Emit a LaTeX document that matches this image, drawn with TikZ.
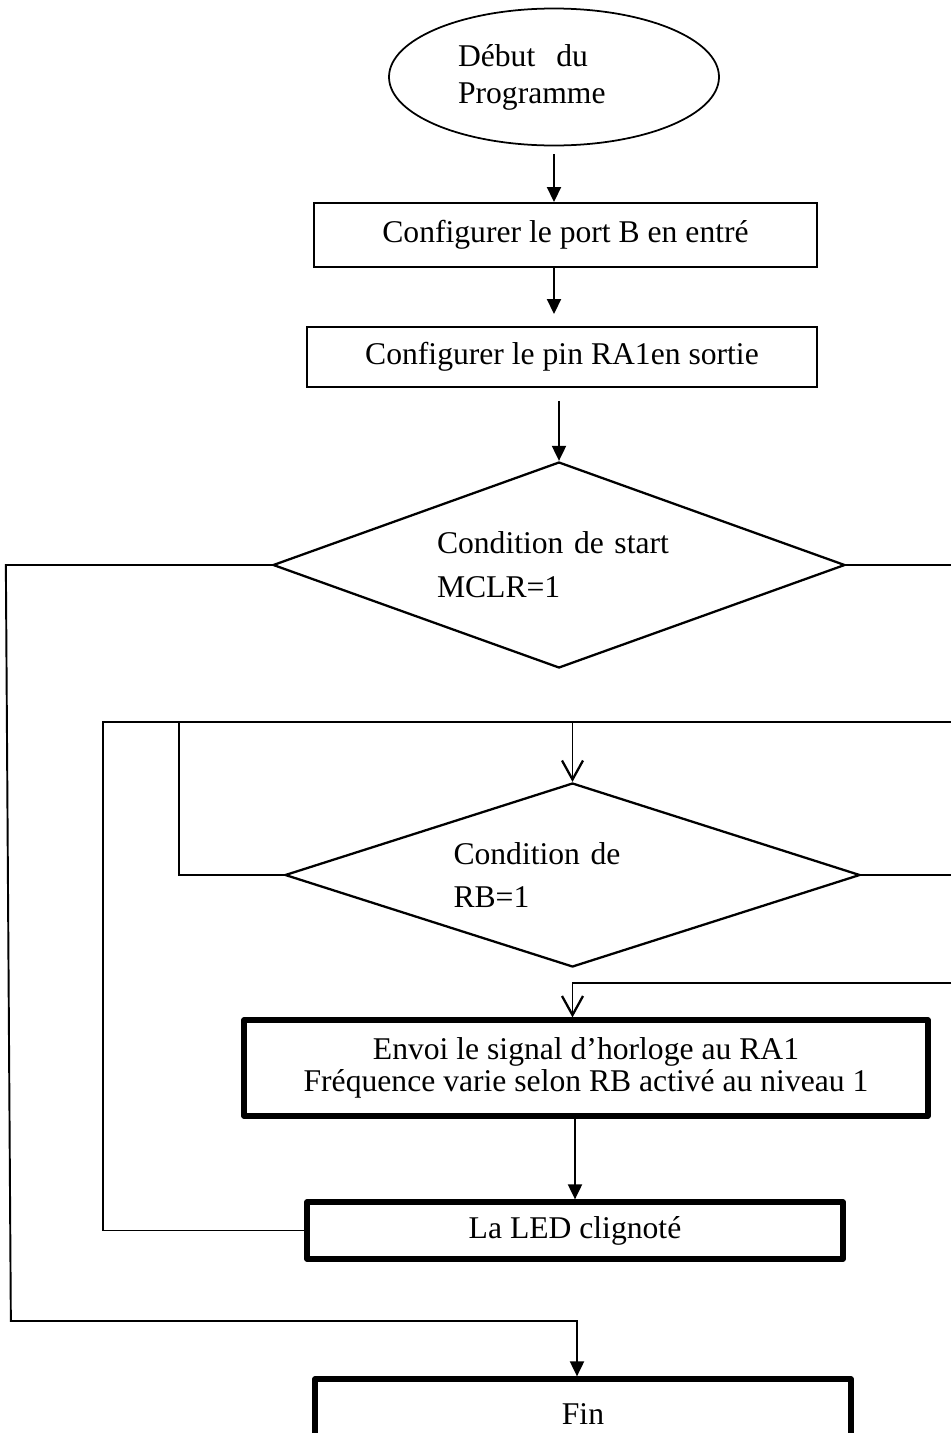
\documentclass[tikz,border=0pt]{standalone}
\usepackage{fontspec}
\setmainfont{Liberation Serif}
\usetikzlibrary{arrows.meta,shapes.geometric}

\begin{document}
\begin{tikzpicture}[
  >=Latex,
  font=\fontsize{18}{21}\selectfont,
  terminal/.style={draw, ellipse, line width=1pt, minimum width=6.6cm, minimum height=2.74cm, inner sep=0pt, text width=3.84cm, align=left},
  stepbox/.style={draw, line width=1.1pt, minimum height=1.28cm, inner sep=0pt, align=center},
  action/.style={draw, line width=3pt, line join=round, minimum height=1.14cm, inner sep=0pt, align=center},
  test/.style={draw, diamond, aspect=3, line width=1.3pt, inner sep=0pt, align=left},
  flow/.style={-{Triangle[length=0.3cm,width=0.28cm]}, line width=1.1pt},
  loopflow/.style={-{Straight Barb[length=0.38cm,width=0.42cm, line width=1.3pt]}, line width=1pt},
  link/.style={line width=0.75pt}
]
\useasboundingbox (0,0) rectangle (19.02,-28.66);
\clip (0,0) rectangle (19.02,-28.66);

% Start and set-up
\node[terminal] (start) at (11.08,-1.54) {Début~ du\\Programme};
\node[stepbox, minimum width=10.06cm] (cfgB) at (11.31,-4.70) {Configurer le port B en entré};
\node[stepbox, minimum width=10.2cm, minimum height=1.2cm] (cfgP) at (11.24,-7.14) {Configurer le pin RA1en sortie};

% Tests
\node[test, minimum width=11.44cm, minimum height=4.12cm, text width=4.88cm,
  font=\fontsize{18}{25}\selectfont] (mclr) at (11.18,-11.30) {Condition de start\\MCLR=1};
\node[test, minimum width=11.5cm, minimum height=3.68cm, text width=4.76cm,
  font=\fontsize{18}{24}\selectfont] (rb) at (11.45,-17.50) {Condition de\\RB=1};

% Actions
\node[action, minimum width=13.68cm, minimum height=1.92cm, font=\fontsize{18}{18.5}\selectfont] (clock) at (11.72,-21.36)
  {Envoi le signal d’horloge au RA1\\Fréquence varie selon RB activé au niveau 1};
\node[action, minimum width=10.72cm] (led) at (11.50,-24.61) {La LED clignoté};
\node[action, minimum width=10.72cm, minimum height=1.4cm] (fin) at (11.66,-28.28) {Fin};

\coordinate (edgeR) at (19.02,0);
\coordinate (loopTL) at (2.06,-14.44);
\coordinate (loopTM) at (3.58,-14.44);
\coordinate (yesbar) at (19.02,-19.66);

\draw[flow, shorten <=0.16cm] (start.south) -- (start.south |- cfgB.north);
\draw[flow, shorten >=0.24cm] (cfgB.south -| start) -- (cfgP.north -| start);
\draw[flow, shorten <=0.26cm] (cfgP.south -| mclr.north) -- (mclr.north);

% MCLR branches
\draw[flow] (mclr.west) -- ++(-5.32,0) -- ++(0.1,-15.12) -| ([xshift=-0.12cm]fin.north);
\draw[link] (mclr.east) -- (mclr.east -| edgeR);

% RB loop
\draw[link] (led.west) -| (loopTL) -- (loopTL -| edgeR);
\draw[link] (rb.west) -| (loopTM);
\draw[loopflow] (rb.north |- loopTL) -- (rb.north);
\draw[link] (rb.east) -- (rb.east -| edgeR);
\draw[loopflow] (yesbar) -| (rb.south |- clock.north);
\draw[flow] (clock.south -| led.north) -- (led.north);
\end{tikzpicture}
\end{document}
